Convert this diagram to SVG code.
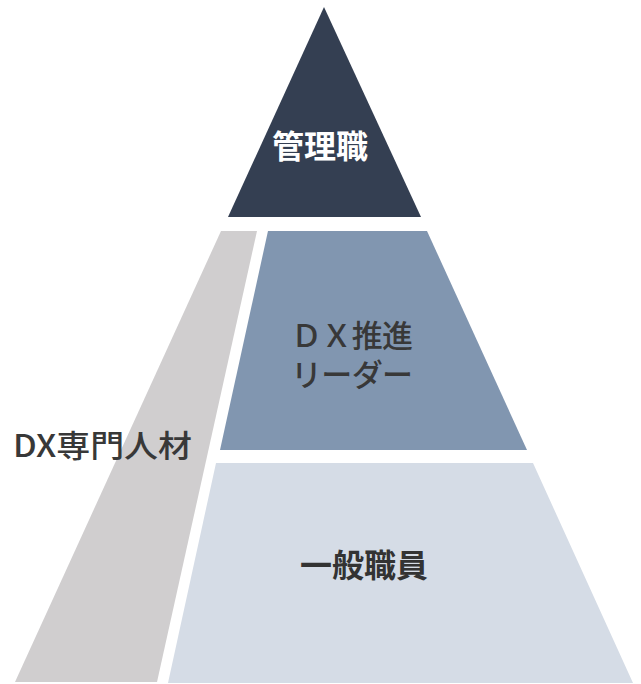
<svg xmlns="http://www.w3.org/2000/svg" width="641" height="684" viewBox="0 0 641 684">
<style>
text{font-family:"Noto Sans CJK JP","Noto Sans",sans-serif;font-size:31px;}
.w{fill:#ffffff;font-weight:bold;font-size:32px;}
.d{fill:#383838;font-weight:500;}
.b{font-weight:bold;fill:#333333;font-size:32px;}
</style>
<rect width="641" height="684" fill="#ffffff"/>
<g id="dx-specialist">
<polygon points="221,231 257,231 157,682 15,682" fill="#d0cecf"/>
<text class="d" x="13" y="457" textLength="179" lengthAdjust="spacingAndGlyphs">DX専門人材</text>
</g>
<g id="manager">
<polygon points="324,7 421,217 228,217" fill="#343f52"/>
<text class="w" x="320" y="158" text-anchor="middle">管理職</text>
</g>
<g id="dx-leader">
<polygon points="268,231 427,231 527,450 220,450" fill="#8196b0"/>
<text class="d" x="291" y="347" textLength="122">ＤＸ推進</text>
<text class="d" x="291" y="386" textLength="122">リーダー</text>
</g>
<g id="staff">
<polygon points="216,463 533,463 633,683 168,683" fill="#d5dce6"/>
<text class="b" x="364" y="577" text-anchor="middle">一般職員</text>
</g>
<g id="connectors"/>
</svg>
